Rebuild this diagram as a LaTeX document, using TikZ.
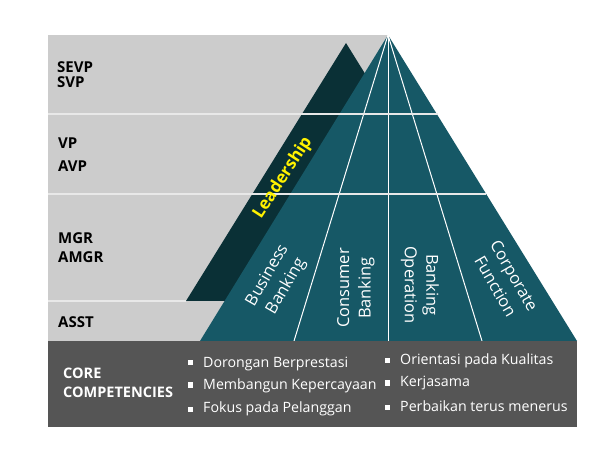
\documentclass[tikz,border=0pt]{standalone}
\usepackage{fontspec}
\setmainfont{Open Sans}
\definecolor{bggray}{HTML}{CCCCCC}
\definecolor{teal}{HTML}{165866}
\definecolor{darkteal}{HTML}{0A3036}
\definecolor{bar}{HTML}{555555}
\definecolor{lead}{HTML}{FFF200}
\definecolor{sep}{HTML}{E8E8E8}
\begin{document}
\begin{tikzpicture}[x=1pt,y=-1pt,
  lvl/.style={anchor=base west,font=\fontsize{15}{16}\selectfont\bfseries,text=black,inner sep=0pt},
  col/.style={align=center,text=white,font=\fontsize{16.5}{21.5}\selectfont,inner sep=0pt},
  item/.style={anchor=base west,text=white,font=\fontsize{14.2}{15}\selectfont,inner sep=0pt},
  bul/.style={fill=white,minimum size=5pt,inner sep=0pt},
  sepline/.style={draw=sep,line width=1.2pt},
  ray/.style={draw=white,line width=1pt}]
\useasboundingbox (0,0) rectangle (608,462);
% gray background
\fill[bggray] (48,35) rectangle (388,341);
% leadership triangle
\coordinate (la) at (346,43);
\coordinate (ll) at (186,301);
\coordinate (lr) at (506,301);
\fill[darkteal] (la) -- (ll) -- (lr) -- cycle;
% separators in gray zone
\draw[sepline] (48,301) -- (ll);
% pyramid
\coordinate (apex) at (388,35);
\coordinate (bl) at (200,341);
\coordinate (br) at (577,341);
\coordinate (b1) at (294,341);
\coordinate (b2) at (388,341);
\coordinate (b3) at (482,341);
\fill[teal] (apex) -- (bl) -- (br) -- cycle;
\draw[ray] (apex) -- (b1);
\draw[ray] (apex) -- (b2);
\draw[ray] (apex) -- (b3);
\coordinate (s1l) at (48,114);
\coordinate (s1r) at (438,114);
\coordinate (s2l) at (48,194);
\coordinate (s2r) at (486,194);
\draw[sepline] (s1l) -- (s1r);
\draw[sepline] (s2l) -- (s2r);
% level labels
\node[lvl] (sevp) at (57,73) {SEVP};
\node[lvl] (svp) at (57,88) {SVP};
\node[lvl] (vp) at (58,149) {VP};
\node[lvl] (avp) at (58,172) {AVP};
\node[lvl] (mgr) at (58,244) {MGR};
\node[lvl] (amgr) at (58,263) {AMGR};
\node[lvl] (asst) at (58,328) {ASST};
% leadership
\node[rotate=57,text=lead,font=\fontsize{17}{19}\selectfont\bfseries,inner sep=0pt] (ldr) at (283,178) {Leadership};
% column labels
\node[col,rotate=60] (bb) at (277,281) {Business\\Banking};
\node[col,rotate=90] (cb) at (356,288) {Consumer\\Banking};
\node[col,rotate=-90] (bo) at (420,285) {Banking\\Operation};
\node[col,rotate=-60] (cf) at (505,281) {Corporate\\Function};
% bottom bar
\fill[bar] (48,341) rectangle (577,427);
\node[anchor=base west,text=white,font=\fontsize{14.5}{19}\selectfont\bfseries,align=left,inner sep=0pt] (core) at (63,397) {CORE\\COMPETENCIES};
\node[bul] (d1) at (190.5,362.5) {};
\node[item] (t1) at (203,367) {Dorongan Berprestasi};
\node[bul] (d2) at (190.5,385) {};
\node[item] (t2) at (203,389) {Membangun Kepercayaan};
\node[bul] (d3) at (190.5,409) {};
\node[item] (t3) at (203,413) {Fokus pada Pelanggan};
\node[bul] (d4) at (387.5,361) {};
\node[item] (t4) at (400,365) {Orientasi pada Kualitas};
\node[bul] (d5) at (387.5,383) {};
\node[item] (t5) at (400,387) {Kerjasama};
\node[bul] (d6) at (387.5,407) {};
\node[item] (t6) at (400,411) {Perbaikan terus menerus};
\end{tikzpicture}
\end{document}
